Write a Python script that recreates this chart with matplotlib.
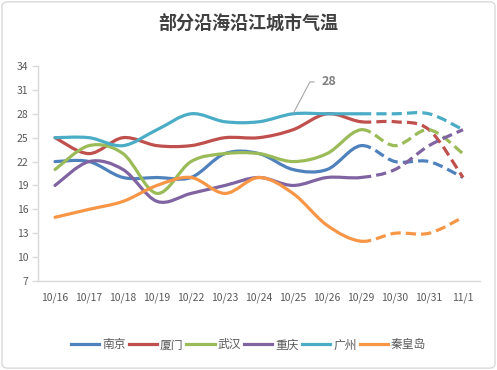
#!/usr/bin/env python3
"""
Coastal / riverside city temperatures, Excel-style smoothed lines
"""

import numpy as np
import matplotlib.pyplot as plt
from matplotlib.path import Path
from matplotlib.patches import PathPatch, FancyBboxPatch
from matplotlib.lines import Line2D

# Data
dates = ['10/16', '10/17', '10/18', '10/19', '10/22', '10/23', '10/24',
         '10/25', '10/26', '10/29', '10/30', '10/31', '11/1']
nanjing = [22, 22, 20, 20, 20, 23, 23, 21, 21, 24, 22, 22, 20]
xiamen = [25, 23, 25, 24, 24, 25, 25, 26, 28, 27, 27, 26, 20]
wuhan = [21, 24, 23, 18, 22, 23, 23, 22, 23, 26, 24, 26, 23]
chongqing = [19, 22, 21, 17, 18, 19, 20, 19, 20, 20, 21, 24, 26]
guangzhou = [25, 25, 24, 26, 28, 27, 27, 28, 28, 28, 28, 28, 26]
qinhuangdao = [15, 16, 17, 19, 20, 18, 20, 18, 14, 12, 13, 13, 15]

city_names = ['南京', '厦门', '武汉', '重庆', '广州', '秦皇岛']
city_values = [nanjing, xiamen, wuhan, chongqing, guangzhou, qinhuangdao]
colors = ['#4F81BD', '#C0504D', '#9BBB59', '#8064A2', '#4BACC6', '#F79646']

forecast_start = 9   # last observed index (10/29); dashed afterwards
label_city = 4       # 广州
label_index = 7      # 10/25


def smooth_segments(xs, ys):
    """Bezier control points for each segment (Catmull-Rom like Excel smoothing)"""
    pts = np.column_stack([xs, ys]).astype(float)
    n = len(pts)
    segs = []
    for i in range(n - 1):
        p0 = pts[max(i - 1, 0)]
        p1 = pts[i]
        p2 = pts[i + 1]
        p3 = pts[min(i + 2, n - 1)]
        c1 = p1 + (p2 - p0) / 6.0
        c2 = p2 - (p3 - p1) / 6.0
        segs.append((p1, c1, c2, p2))
    return segs


def make_path(segs):
    verts = [segs[0][0]]
    codes = [Path.MOVETO]
    for _, c1, c2, p2 in segs:
        verts += [c1, c2, p2]
        codes += [Path.CURVE4] * 3
    return Path(verts, codes)


def main():
    plt.rcParams['font.family'] = ['Noto Sans CJK SC', 'DejaVu Sans']

    fig = plt.figure(figsize=(4.97, 3.70), dpi=100)
    ax = fig.add_axes([0.0765, 0.2405, 0.8893, 0.5811])

    x = np.arange(len(dates))
    for name, vals, col in zip(city_names, city_values, colors):
        segs = smooth_segments(x, vals)
        solid = PathPatch(make_path(segs[:forecast_start]), fill=False,
                          edgecolor=col, lw=2.3, capstyle='round',
                          joinstyle='round', zorder=3)
        dashed = PathPatch(make_path(segs[forecast_start:]), fill=False,
                           edgecolor=col, lw=2.3, linestyle=(0, (3.2, 1.6)),
                           capstyle='butt', zorder=3)
        ax.add_patch(solid)
        ax.add_patch(dashed)

    # data label with leader line
    ax.annotate(str(city_values[label_city][label_index]),
                xy=(label_index, city_values[label_city][label_index]),
                xytext=(label_index + 0.83, 32.0),
                ha='left', va='center', fontsize=9, fontweight='bold',
                color='#7F7F7F',
                arrowprops=dict(arrowstyle='-', color='#A6A6A6', lw=0.8,
                                shrinkA=3, shrinkB=1,
                                connectionstyle='angle,angleA=0,angleB=62'))

    ax.set_xlim(-0.5, len(dates) - 0.5)
    ax.set_ylim(7, 34)
    ax.set_yticks(range(7, 35, 3))
    ax.set_xticks(x)
    ax.set_xticklabels(dates)

    for s in ['top', 'right']:
        ax.spines[s].set_visible(False)
    for s in ['left', 'bottom']:
        ax.spines[s].set_color('#D9D9D9')
        ax.spines[s].set_linewidth(1.0)
    ax.tick_params(axis='y', length=4, width=1.0, color='#D9D9D9',
                   labelsize=7.5, labelcolor='#595959', pad=3)
    ax.tick_params(axis='x', length=0, labelsize=7.5, labelcolor='#595959',
                   pad=8)

    fig.text(0.5, 0.937, '部分沿海沿江城市气温', ha='center', va='center',
             fontsize=13, fontweight='bold', color='#404040')

    handles = [Line2D([], [], color=c, lw=2.3) for c in colors]
    fig.legend(handles, city_names, loc='center', bbox_to_anchor=(0.5, 0.068),
               ncol=len(city_names), frameon=False, fontsize=8.5,
               handlelength=2.4, handletextpad=0.25, columnspacing=0.25,
               labelcolor='#595959')

    fig.patches.append(FancyBboxPatch((0.004, 0.005), 0.992, 0.99,
                                      boxstyle='round,pad=0,rounding_size=0.012',
                                      transform=fig.transFigure, fill=False,
                                      edgecolor='#D9D9D9', lw=1.0))

    fig.savefig('out.png', dpi=100)


if __name__ == "__main__":
    main()
